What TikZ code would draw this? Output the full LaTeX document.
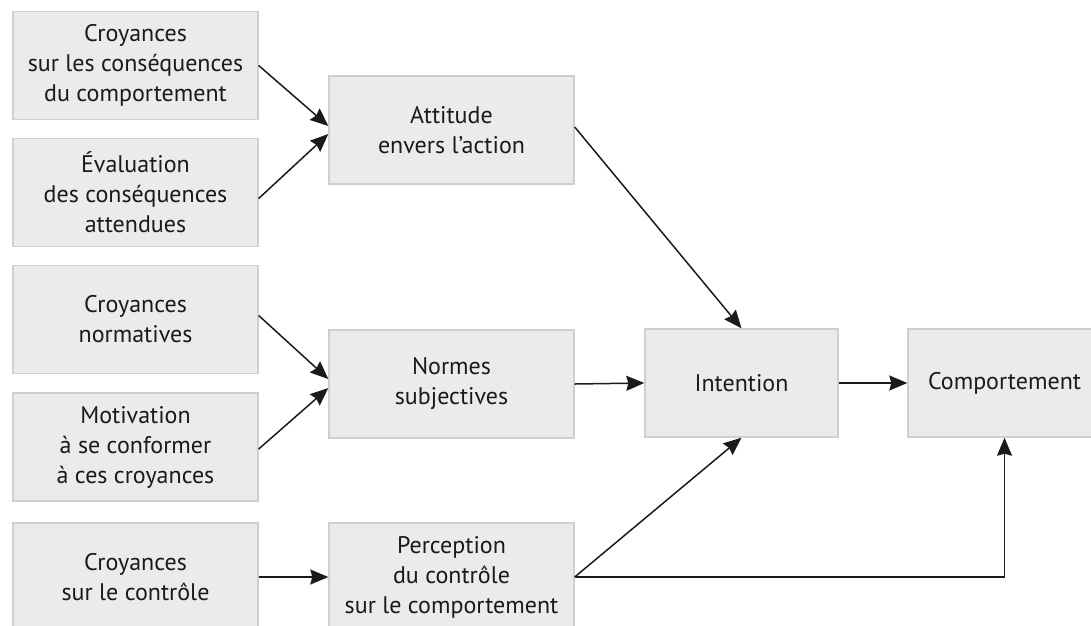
\documentclass[tikz,border=0pt]{standalone}
\usepackage{fontspec}
\setmainfont{PT Sans}
\usetikzlibrary{arrows.meta,calc}
\definecolor{boxfill}{HTML}{EBEBEB}
\definecolor{boxline}{HTML}{CFCFCF}
\definecolor{arr}{HTML}{1A1A1A}
\tikzset{
  box/.style={draw=boxline, fill=boxfill, line width=1.4pt, inner sep=0pt,
    align=center, text=arr, font=\fontsize{24}{30}\selectfont},
  lbox/.style={box, minimum width=245pt, minimum height=108pt},
  ibox/.style={box, minimum width=193pt, minimum height=108pt},
  conn/.style={draw=arr, line width=1.5pt, -{Stealth[length=18pt,width=15pt,inset=2pt]}}
}
\begin{document}
\begin{tikzpicture}[x=1pt,y=-1pt]
\useasboundingbox (0,0) rectangle (1091,625);
\node[lbox] (b1) at (135.5,65.5) {Croyances\\sur les conséquences\\du comportement};
\node[lbox] (b2) at (135.5,192.5) {Évaluation\\des conséquences\\attendues};
\node[lbox] (b3) at (135.5,319.5) {Croyances\\normatives};
\node[lbox] (b4) at (135.5,447) {Motivation\\à se conformer\\à ces croyances};
\node[lbox] (b5) at (135.5,577) {Croyances\\sur le contrôle};
\node[lbox] (att) at (451.5,130) {Attitude\\envers l’action};
\node[lbox] (nor) at (451.5,384) {Normes\\subjectives};
\node[lbox] (per) at (451.5,577) {Perception\\du contrôle\\sur le comportement};
\node[ibox] (int) at (741.5,383) {Intention};
\node[ibox] (com) at (1004.5,383) {Comportement};

\draw[conn] (b1.east) -- ($(att.west)+(0,-4)$);
\draw[conn] ($(b2.east)+(0,6)$) -- ($(att.west)+(0,4)$);
\draw[conn] ($(b3.east)+(0,-4)$) -- ($(nor.west)+(0,-5)$);
\draw[conn] ($(b4.east)+(0,2)$) -- ($(nor.west)+(0,4)$);
\draw[conn] (b5.east) -- (per.west);
\draw[conn] ($(att.east)+(0,-3)$) -- (int.north);
\draw[conn] (nor.east) -- (int.west);
\draw[conn] (per.east) -- (int.south);
\draw[conn] (int.east) -- (com.west);
\draw[conn] (per.east) -| (com.south);
\end{tikzpicture}
\end{document}
